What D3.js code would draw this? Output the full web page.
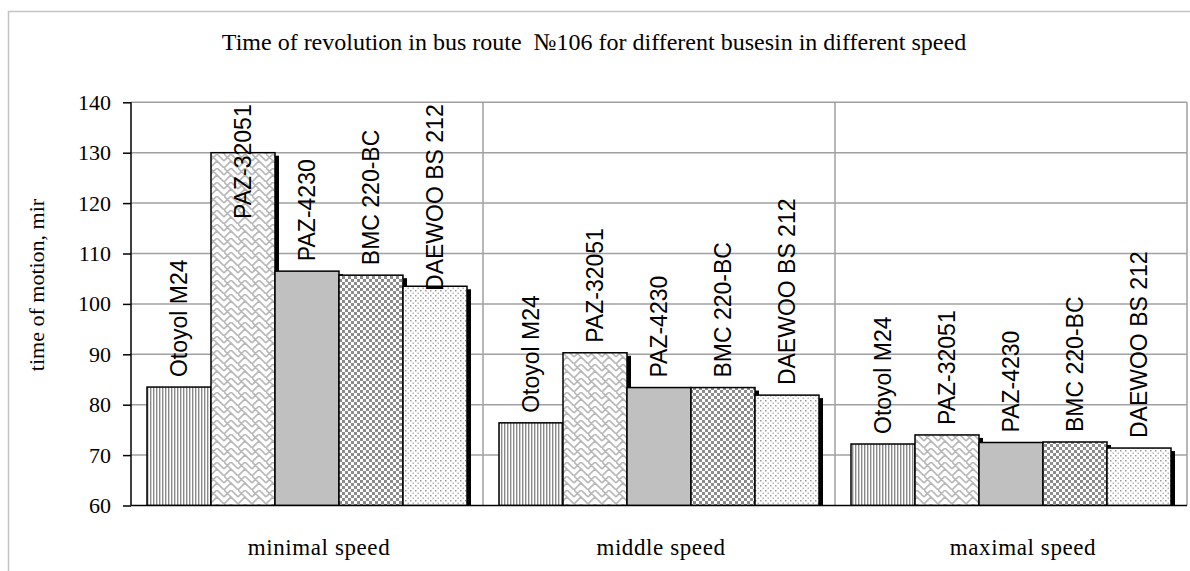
<!DOCTYPE html>
<html>
<head>
<meta charset="utf-8">
<script src="https://cdn.jsdelivr.net/npm/d3@7"></script>
<style>
  body { margin: 0; background: #fff; }
  svg { display: block; }
</style>
</head>
<body>
<div id="canvas"></div>
<script>
// datos
var categorias = ["minimal speed", "middle speed", "maximal speed"];
var autobuses = ["Otoyol M24", "PAZ-32051", "PAZ-4230", "BMC 220-BC", "DAEWOO BS 212"];
var otoyol   = [83.5, 76.4, 72.2];
var paz32051 = [130, 90.3, 74.0];
var paz4230  = [106.5, 83.4, 72.5];
var bmc      = [105.7, 83.4, 72.6];
var daewoo   = [103.5, 81.9, 71.4];
var ticksY = [60, 70, 80, 90, 100, 110, 120, 130, 140];

var series = [otoyol, paz32051, paz4230, bmc, daewoo];

var width = 1190;
var height = 571;
var margin = {top: 102.3, right: 3, bottom: 65.5, left: 131};

var svg = d3.select("#canvas").append("svg")
    .attr("width", width)
    .attr("height", height);

// borde exterior
svg.append("rect")
    .attr("x", 8.5).attr("y", 11.5)
    .attr("width", 1200).attr("height", 600)
    .attr("fill", "none")
    .attr("stroke", "#c4c4c4")
    .attr("stroke-width", 1.5);

// patrones de relleno
var defs = svg.append("defs");

var p1 = defs.append("pattern").attr("id", "pat0")
    .attr("patternUnits", "userSpaceOnUse").attr("width", 3).attr("height", 3);
p1.append("rect").attr("width", 3).attr("height", 3).attr("fill", "#fff");
p1.append("rect").attr("width", 1.4).attr("height", 3).attr("fill", "#8a8a8a");

var p2 = defs.append("pattern").attr("id", "pat1")
    .attr("patternUnits", "userSpaceOnUse").attr("width", 14).attr("height", 14);
p2.append("rect").attr("width", 14).attr("height", 14).attr("fill", "#fff");
p2.append("path")
    .attr("d", "M0,7 L7,0 L14,7 M0,14 L7,7 L14,14 M3.5,3.5 L7,7 M10.5,10.5 L14,14 M0,0 L3.5,3.5")
    .attr("stroke", "#b8b8b8").attr("stroke-width", 1.6).attr("fill", "none");

var p3 = defs.append("pattern").attr("id", "pat2")
    .attr("patternUnits", "userSpaceOnUse").attr("width", 4).attr("height", 4);
p3.append("rect").attr("width", 4).attr("height", 4).attr("fill", "#c0c0c0");

var p4 = defs.append("pattern").attr("id", "pat3")
    .attr("patternUnits", "userSpaceOnUse").attr("width", 6).attr("height", 6);
p4.append("rect").attr("width", 6).attr("height", 6).attr("fill", "#fff");
p4.append("rect").attr("width", 3).attr("height", 3).attr("fill", "#8c8c8c");
p4.append("rect").attr("x", 3).attr("y", 3).attr("width", 3).attr("height", 3).attr("fill", "#8c8c8c");

var p5 = defs.append("pattern").attr("id", "pat4")
    .attr("patternUnits", "userSpaceOnUse").attr("width", 5).attr("height", 5);
p5.append("rect").attr("width", 5).attr("height", 5).attr("fill", "#fff");
p5.append("rect").attr("width", 1.5).attr("height", 1.5).attr("fill", "#9a9a9a");
p5.append("rect").attr("x", 2.5).attr("y", 2.5).attr("width", 1.5).attr("height", 1.5).attr("fill", "#b5b5b5");

var x0 = d3.scaleBand()
    .domain(categorias)
    .range([margin.left, width - margin.right])
    .paddingInner(0).paddingOuter(0);

var x1 = d3.scaleBand()
    .domain(autobuses)
    .range([0, x0.bandwidth()])
    .paddingInner(0).paddingOuter(0.25);

var y = d3.scaleLinear()
    .domain([60, 140])
    .range([height - margin.bottom, margin.top]);

// rejilla
svg.append("g").selectAll("line")
    .data(ticksY.slice(1))
    .enter().append("line")
    .attr("x1", margin.left).attr("x2", width - margin.right)
    .attr("y1", function(d) { return y(d); })
    .attr("y2", function(d) { return y(d); })
    .attr("stroke", "#a0a0a0").attr("stroke-width", 1.5);

svg.append("g").selectAll("line")
    .data(categorias)
    .enter().append("line")
    .attr("x1", function(d) { return x0(d) + x0.bandwidth(); })
    .attr("x2", function(d) { return x0(d) + x0.bandwidth(); })
    .attr("y1", y(140)).attr("y2", y(60))
    .attr("stroke", "#a0a0a0").attr("stroke-width", 1.5);

// barras con sombra
var datos = [];
categorias.forEach(function(c, i) {
    autobuses.forEach(function(b, j) {
        datos.push({cat: c, bus: b, valor: series[j][i], serie: j});
    });
});

var clip = defs.append("clipPath").attr("id", "plotclip");
clip.append("rect")
    .attr("x", margin.left).attr("y", 0)
    .attr("width", width).attr("height", y(60));

var barras = svg.append("g").attr("clip-path", "url(#plotclip)");
datos.forEach(function(d) {
    var bx = x0(d.cat) + x1(d.bus);
    barras.append("rect")
        .attr("x", bx + 4)
        .attr("y", y(d.valor) + 3)
        .attr("width", x1.bandwidth())
        .attr("height", y(60) - y(d.valor))
        .attr("fill", "#000");
    barras.append("rect")
        .attr("x", bx)
        .attr("y", y(d.valor))
        .attr("width", x1.bandwidth())
        .attr("height", y(60) - y(d.valor))
        .attr("fill", "url(#pat" + d.serie + ")")
        .attr("stroke", "#000")
        .attr("stroke-width", 1.5);
});

// etiquetas de las barras
var etiquetas = svg.append("g");
datos.forEach(function(d) {
    var cx = x0(d.cat) + x1(d.bus) + x1.bandwidth() / 2;
    var t = etiquetas.append("text")
        .attr("font-family", "'Liberation Sans', Arial, sans-serif")
        .attr("font-size", "23px")
        .attr("dominant-baseline", "central")
        .attr("text-anchor", "start")
        .text(d.bus);
    var len = t.node().getComputedTextLength();
    var base = Math.max(y(d.valor) - 10, y(140) + 2 + len);
    t.attr("transform", "translate(" + cx + "," + base + ") rotate(-90)");
});

// ejes
var ejeY = svg.append("g")
    .attr("transform", "translate(" + margin.left + ",0)")
    .call(d3.axisLeft(y).tickValues(ticksY).tickSize(8).tickPadding(12).tickFormat(d3.format("d")));
ejeY.select(".domain").attr("stroke", "#000").attr("stroke-width", 1.5)
    .attr("d", "M0," + y(140) + "V" + y(60));
ejeY.selectAll(".tick line").attr("stroke", "#000").attr("stroke-width", 1.5);
ejeY.selectAll(".tick text")
    .attr("font-family", "'Liberation Serif', 'Times New Roman', serif")
    .attr("font-size", "22px")
    .attr("fill", "#000");

svg.append("line")
    .attr("x1", margin.left).attr("x2", width - margin.right)
    .attr("y1", y(60)).attr("y2", y(60))
    .attr("stroke", "#000").attr("stroke-width", 1.5);

svg.append("g").selectAll("text")
    .data(categorias)
    .enter().append("text")
    .attr("x", function(d, i) { return x0(d) + x0.bandwidth() / 2 + (i === 1 ? 2 : 12); })
    .attr("y", 555)
    .attr("text-anchor", "middle")
    .attr("font-family", "'Liberation Serif', 'Times New Roman', serif")
    .attr("font-size", "23px")
    .attr("letter-spacing", "0.6px")
    .text(function(d) { return d; });

// títulos
svg.append("text")
    .attr("x", 594).attr("y", 50)
    .attr("text-anchor", "middle")
    .attr("font-family", "'Liberation Serif', 'Times New Roman', serif")
    .attr("font-size", "24px")
    .style("white-space", "pre")
    .text("Time of revolution in bus route  №106 for different busesin in different speed");

svg.append("text")
    .attr("transform", "translate(44,285) rotate(-90)")
    .attr("text-anchor", "middle")
    .attr("font-family", "'Liberation Serif', 'Times New Roman', serif")
    .attr("font-size", "22px")
    .text("time of motion, mir");
</script>
</body>
</html>
